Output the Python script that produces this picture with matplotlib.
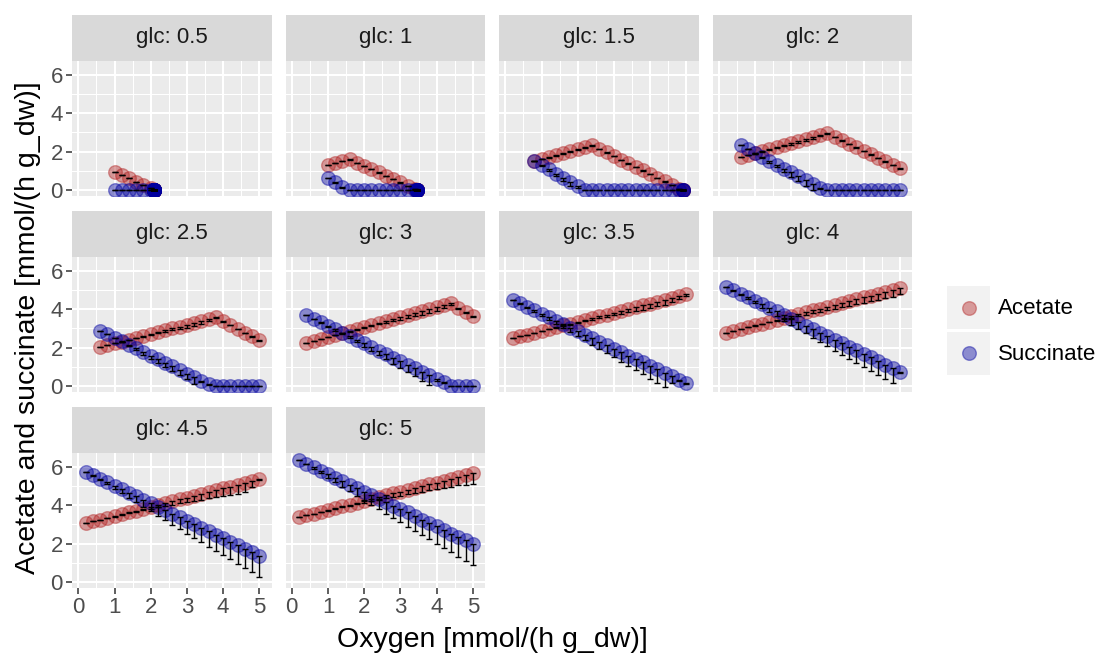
import matplotlib
matplotlib.use("Agg")
import matplotlib.pyplot as plt
from matplotlib.patches import Rectangle

plt.rcParams['font.family'] = ['Liberation Sans', 'DejaVu Sans']

# ---------------- data ----------------
glc_labels = ["glc: 0.5", "glc: 1", "glc: 1.5", "glc: 2", "glc: 2.5",
              "glc: 3", "glc: 3.5", "glc: 4", "glc: 4.5", "glc: 5"]
series_names = ["Acetate", "Succinate"]
x_ticks = [0, 1, 2, 3, 4, 5]
y_ticks = [0, 2, 4, 6]

# glc 0.5
x_g05 = [1.0, 1.2, 1.4, 1.6, 1.8, 2.0] + [2.08] * 15
ace_g05 = [0.95, 0.78, 0.61, 0.43, 0.25, 0.08] + [0.0] * 15
suc_g05 = [0.0] * 21
ace_err_g05 = [0.0] * 21
suc_err_g05 = [0.0] * 21

# glc 1
x_g1 = [1.0, 1.2, 1.4, 1.6, 1.8, 2.0, 2.2, 2.4, 2.6, 2.8, 3.0, 3.2, 3.4] + [3.47] * 8
ace_g1 = [1.30, 1.42, 1.52, 1.60, 1.43, 1.26, 1.09, 0.92, 0.75, 0.57, 0.40, 0.23, 0.06] + [0.0] * 8
suc_g1 = [0.64, 0.40, 0.17, 0.02, 0, 0, 0, 0, 0, 0, 0, 0, 0] + [0.0] * 8
ace_err_g1 = [0.0, 0.02, 0.03, 0.03, 0.02, 0.02, 0.02, 0.02, 0.02, 0.02, 0.02, 0.02, 0.02] + [0.0] * 8
suc_err_g1 = [0.0, 0.06, 0.08, 0.02, 0, 0, 0, 0, 0, 0, 0, 0, 0] + [0.0] * 8

# glc 1.5
x_g15 = [0.8, 1.0, 1.2, 1.4, 1.6, 1.8, 2.0, 2.2, 2.4, 2.6, 2.8, 3.0, 3.2, 3.4, 3.6, 3.8,
         4.0, 4.2, 4.4, 4.6, 4.8] + [4.9] * 3
ace_g15 = [1.50, 1.61, 1.71, 1.82, 1.92, 2.03, 2.14, 2.24, 2.35, 2.16, 1.97, 1.78, 1.59,
           1.40, 1.21, 1.02, 0.83, 0.64, 0.45, 0.26, 0.07] + [0.0] * 3
suc_g15 = [1.50, 1.29, 1.07, 0.86, 0.64, 0.43, 0.21, 0.0, 0, 0, 0, 0, 0, 0, 0, 0, 0, 0,
           0, 0, 0] + [0.0] * 3
ace_err_g15 = [0.0, 0.01, 0.02, 0.03, 0.04, 0.05, 0.06, 0.06, 0.05, 0.03, 0.02, 0.02, 0.02,
               0.02, 0.02, 0.02, 0.02, 0.02, 0.02, 0.02, 0.02] + [0.0] * 3
suc_err_g15 = [0.0, 0.03, 0.07, 0.11, 0.16, 0.2, 0.1, 0.02, 0, 0, 0, 0, 0, 0, 0, 0, 0, 0,
               0, 0, 0] + [0.0] * 3

# glc 2
x_g2 = [0.6, 0.8, 1.0, 1.2, 1.4, 1.6, 1.8, 2.0, 2.2, 2.4, 2.6, 2.8, 3.0, 3.2, 3.4, 3.6,
        3.8, 4.0, 4.2, 4.4, 4.6, 4.8, 5.0]
ace_g2 = [1.70, 1.81, 1.91, 2.02, 2.12, 2.23, 2.33, 2.44, 2.54, 2.65, 2.75, 2.86, 2.96,
          2.78, 2.59, 2.41, 2.23, 2.05, 1.86, 1.68, 1.50, 1.31, 1.13]
suc_g2 = [2.35, 2.15, 1.94, 1.74, 1.53, 1.33, 1.12, 0.92, 0.72, 0.51, 0.31, 0.10, 0.0,
          0, 0, 0, 0, 0, 0, 0, 0, 0, 0]
ace_err_g2 = [0.0, 0.01, 0.02, 0.03, 0.04, 0.05, 0.06, 0.07, 0.08, 0.08, 0.08, 0.05, 0.03,
              0.02, 0.02, 0.02, 0.02, 0.02, 0.02, 0.02, 0.02, 0.02, 0.02]
suc_err_g2 = [0.0, 0.02, 0.04, 0.07, 0.1, 0.14, 0.18, 0.22, 0.26, 0.3, 0.3, 0.05, 0.0,
              0, 0, 0, 0, 0, 0, 0, 0, 0, 0]

# glc 2.5
x_g25 = [0.6, 0.8, 1.0, 1.2, 1.4, 1.6, 1.8, 2.0, 2.2, 2.4, 2.6, 2.8, 3.0, 3.2, 3.4, 3.6,
         3.8, 4.0, 4.2, 4.4, 4.6, 4.8, 5.0]
ace_g25 = [2.02, 2.12, 2.22, 2.31, 2.41, 2.51, 2.61, 2.70, 2.80, 2.90, 3.00, 3.09, 3.19,
           3.29, 3.39, 3.48, 3.58, 3.38, 3.19, 2.99, 2.79, 2.60, 2.40]
suc_g25 = [2.89, 2.70, 2.52, 2.33, 2.14, 1.96, 1.77, 1.59, 1.40, 1.21, 1.03, 0.84, 0.65,
           0.47, 0.28, 0.09, 0, 0, 0, 0, 0, 0, 0]
ace_err_g25 = [0.0, 0.0, 0.0, 0.01, 0.02, 0.03, 0.04, 0.05, 0.06, 0.08, 0.1, 0.12, 0.14,
               0.15, 0.15, 0.1, 0.05, 0.03, 0.03, 0.03, 0.03, 0.03, 0.03]
suc_err_g25 = [0.0, 0.01, 0.03, 0.05, 0.07, 0.1, 0.13, 0.16, 0.19, 0.22, 0.25, 0.28, 0.31,
               0.35, 0.05, 0.02, 0, 0, 0, 0, 0, 0, 0]

# glc 3
x_g3 = [0.4, 0.6, 0.8, 1.0, 1.2, 1.4, 1.6, 1.8, 2.0, 2.2, 2.4, 2.6, 2.8, 3.0, 3.2, 3.4,
        3.6, 3.8, 4.0, 4.2, 4.4, 4.6, 4.8, 5.0]
ace_g3 = [2.23, 2.33, 2.44, 2.54, 2.65, 2.75, 2.85, 2.96, 3.06, 3.17, 3.27, 3.37, 3.48,
          3.58, 3.69, 3.79, 3.89, 4.00, 4.10, 4.21, 4.31, 4.09, 3.87, 3.65]
suc_g3 = [3.70, 3.52, 3.33, 3.15, 2.96, 2.78, 2.59, 2.41, 2.22, 2.04, 1.85, 1.67, 1.48,
          1.30, 1.11, 0.93, 0.74, 0.56, 0.37, 0.19, 0.0, 0, 0, 0]
ace_err_g3 = [0.0, 0.0, 0.0, 0.0, 0.0, 0.01, 0.02, 0.03, 0.04, 0.05, 0.06, 0.08, 0.1,
              0.12, 0.14, 0.16, 0.18, 0.2, 0.2, 0.15, 0.1, 0.05, 0.08, 0.05]
suc_err_g3 = [0.0, 0.01, 0.03, 0.05, 0.07, 0.09, 0.11, 0.14, 0.17, 0.2, 0.23, 0.27, 0.31,
              0.35, 0.39, 0.43, 0.47, 0.5, 0.1, 0.05, 0, 0, 0, 0]

# glc 3.5
x_g35 = [0.2, 0.4, 0.6, 0.8, 1.0, 1.2, 1.4, 1.6, 1.8, 2.0, 2.2, 2.4, 2.6, 2.8, 3.0, 3.2,
         3.4, 3.6, 3.8, 4.0, 4.2, 4.4, 4.6, 4.8, 5.0]
ace_g35 = [2.49, 2.59, 2.68, 2.78, 2.87, 2.97, 3.06, 3.16, 3.25, 3.35, 3.44, 3.54, 3.63,
           3.73, 3.83, 3.92, 4.02, 4.11, 4.21, 4.30, 4.40, 4.49, 4.59, 4.68, 4.78]
suc_g35 = [4.49, 4.31, 4.13, 3.95, 3.77, 3.58, 3.40, 3.22, 3.04, 2.86, 2.68, 2.50, 2.32,
           2.13, 1.95, 1.77, 1.59, 1.41, 1.23, 1.05, 0.87, 0.68, 0.50, 0.32, 0.14]
ace_err_g35 = [0.0, 0.0, 0.0, 0.0, 0.01, 0.02, 0.03, 0.04, 0.05, 0.06, 0.07, 0.08, 0.1,
               0.12, 0.14, 0.16, 0.18, 0.2, 0.22, 0.24, 0.25, 0.26, 0.2, 0.12, 0.08]
suc_err_g35 = [0.0, 0.02, 0.05, 0.08, 0.11, 0.14, 0.17, 0.2, 0.23, 0.27, 0.3, 0.34, 0.38,
               0.42, 0.46, 0.5, 0.54, 0.58, 0.62, 0.66, 0.7, 0.72, 0.35, 0.05, 0.02]

# glc 4
x_g4 = [0.2, 0.4, 0.6, 0.8, 1.0, 1.2, 1.4, 1.6, 1.8, 2.0, 2.2, 2.4, 2.6, 2.8, 3.0, 3.2,
        3.4, 3.6, 3.8, 4.0, 4.2, 4.4, 4.6, 4.8, 5.0]
ace_g4 = [2.78, 2.88, 2.97, 3.07, 3.17, 3.26, 3.36, 3.46, 3.55, 3.65, 3.75, 3.84, 3.94,
          4.04, 4.13, 4.23, 4.33, 4.42, 4.52, 4.62, 4.71, 4.81, 4.91, 5.00, 5.10]
suc_g4 = [5.18, 5.00, 4.81, 4.63, 4.44, 4.26, 4.07, 3.89, 3.70, 3.52, 3.33, 3.15, 2.97,
          2.78, 2.60, 2.41, 2.23, 2.04, 1.86, 1.67, 1.49, 1.30, 1.12, 0.93, 0.75]
ace_err_g4 = [0.0, 0.0, 0.0, 0.01, 0.02, 0.03, 0.04, 0.05, 0.06, 0.08, 0.1, 0.12, 0.14,
              0.16, 0.18, 0.2, 0.22, 0.24, 0.26, 0.28, 0.3, 0.32, 0.33, 0.34, 0.3]
suc_err_g4 = [0.0, 0.02, 0.05, 0.09, 0.13, 0.17, 0.21, 0.25, 0.29, 0.33, 0.37, 0.41, 0.45,
              0.49, 0.53, 0.57, 0.61, 0.64, 0.67, 0.7, 0.72, 0.74, 0.76, 0.77, 0.05]

# glc 4.5
x_g45 = [0.2, 0.4, 0.6, 0.8, 1.0, 1.2, 1.4, 1.6, 1.8, 2.0, 2.2, 2.4, 2.6, 2.8, 3.0, 3.2,
         3.4, 3.6, 3.8, 4.0, 4.2, 4.4, 4.6, 4.8, 5.0]
ace_g45 = [3.06, 3.16, 3.25, 3.35, 3.44, 3.54, 3.63, 3.73, 3.83, 3.92, 4.02, 4.11, 4.21,
           4.31, 4.40, 4.50, 4.59, 4.69, 4.78, 4.88, 4.98, 5.07, 5.17, 5.26, 5.36]
suc_g45 = [5.76, 5.58, 5.39, 5.21, 5.03, 4.84, 4.66, 4.48, 4.29, 4.11, 3.93, 3.74, 3.56,
           3.38, 3.19, 3.01, 2.83, 2.64, 2.46, 2.28, 2.09, 1.91, 1.73, 1.54, 1.36]
ace_err_g45 = [0.0, 0.0, 0.01, 0.02, 0.03, 0.04, 0.05, 0.07, 0.09, 0.11, 0.13, 0.15, 0.18,
               0.2, 0.23, 0.26, 0.29, 0.32, 0.35, 0.38, 0.42, 0.46, 0.5, 0.3, 0.05]
suc_err_g45 = [0.0, 0.03, 0.07, 0.12, 0.17, 0.22, 0.27, 0.32, 0.37, 0.42, 0.47, 0.52, 0.57,
               0.62, 0.67, 0.71, 0.75, 0.79, 0.83, 0.87, 0.91, 0.95, 0.99, 1.03, 1.08]

# glc 5
x_g5 = [0.2, 0.4, 0.6, 0.8, 1.0, 1.2, 1.4, 1.6, 1.8, 2.0, 2.2, 2.4, 2.6, 2.8, 3.0, 3.2,
        3.4, 3.6, 3.8, 4.0, 4.2, 4.4, 4.6, 4.8, 5.0]
ace_g5 = [3.37, 3.47, 3.56, 3.66, 3.75, 3.85, 3.94, 4.04, 4.14, 4.23, 4.33, 4.42, 4.52,
          4.62, 4.71, 4.81, 4.90, 5.00, 5.10, 5.19, 5.29, 5.38, 5.48, 5.58, 5.67]
suc_g5 = [6.36, 6.18, 5.99, 5.81, 5.63, 5.45, 5.27, 5.08, 4.90, 4.72, 4.54, 4.35, 4.17,
          3.99, 3.81, 3.63, 3.44, 3.26, 3.08, 2.90, 2.71, 2.53, 2.35, 2.17, 1.98]
ace_err_g5 = [0.0, 0.0, 0.01, 0.02, 0.03, 0.04, 0.05, 0.06, 0.08, 0.1, 0.12, 0.14, 0.16,
              0.18, 0.2, 0.22, 0.25, 0.28, 0.3, 0.33, 0.36, 0.4, 0.44, 0.5, 0.56]
suc_err_g5 = [0.0, 0.03, 0.08, 0.13, 0.19, 0.24, 0.29, 0.34, 0.4, 0.45, 0.5, 0.55, 0.6,
              0.65, 0.7, 0.74, 0.78, 0.82, 0.86, 0.9, 0.94, 0.98, 1.02, 1.06, 1.1]

panels = [
    (x_g05, ace_g05, suc_g05, ace_err_g05, suc_err_g05),
    (x_g1, ace_g1, suc_g1, ace_err_g1, suc_err_g1),
    (x_g15, ace_g15, suc_g15, ace_err_g15, suc_err_g15),
    (x_g2, ace_g2, suc_g2, ace_err_g2, suc_err_g2),
    (x_g25, ace_g25, suc_g25, ace_err_g25, suc_err_g25),
    (x_g3, ace_g3, suc_g3, ace_err_g3, suc_err_g3),
    (x_g35, ace_g35, suc_g35, ace_err_g35, suc_err_g35),
    (x_g4, ace_g4, suc_g4, ace_err_g4, suc_err_g4),
    (x_g45, ace_g45, suc_g45, ace_err_g45, suc_err_g45),
    (x_g5, ace_g5, suc_g5, ace_err_g5, suc_err_g5),
]

# ---------------- style ----------------
W, H = 1100, 657
ACE = (178/255, 34/255, 34/255)
SUC = (0/255, 0/255, 160/255)
ALPHA = 0.42
PANEL_BG = "#EBEBEB"
STRIP_BG = "#D9D9D9"
SMALL = 16
TITLE = 20.5

fig = plt.figure(figsize=(W / 100, H / 100), dpi=100)
fig.patch.set_facecolor("white")


def rect(l, t, w, h):
    return [l / W, 1 - (t + h) / H, w / W, h / H]


col_left = [72.3, 285.8, 499.3, 712.8]
row_top = [61, 257, 453]
pw, ph = 199.5, 135
strip_h = 46

for i, (xs, ace, suc, ace_e, suc_e) in enumerate(panels):
    r, c = divmod(i, 4)
    l, t = col_left[c], row_top[r]
    ax = fig.add_axes(rect(l, t, pw, ph))
    ax.set_facecolor(PANEL_BG)
    ax.set_xlim(-0.166, 5.345)
    ax.set_ylim(-0.313, 6.73)
    ax.set_xticks(x_ticks)
    ax.set_xticks([0.5, 1.5, 2.5, 3.5, 4.5], minor=True)
    ax.set_yticks(y_ticks)
    ax.set_yticks([1, 3, 5], minor=True)
    ax.grid(which="major", color="white", linewidth=1.5)
    ax.grid(which="minor", color="white", linewidth=0.75)
    ax.set_axisbelow(True)
    for s in ax.spines.values():
        s.set_visible(False)
    ax.tick_params(which="minor", length=0)
    ax.tick_params(which="major", length=4.3, width=1.1, color="#333333",
                   labelcolor="#4D4D4D", labelsize=SMALL, pad=2.5)
    if c != 0:
        ax.tick_params(axis="y", which="major", length=0, labelleft=False)
    if r != 2:
        ax.tick_params(axis="x", which="major", length=0, labelbottom=False)

    for ys, col in ((ace, ACE), (suc, SUC)):
        ax.plot(xs, ys, linestyle="none", marker="o", markersize=9.8,
                markerfacecolor=(*col, ALPHA), markeredgecolor=(*col, ALPHA),
                markeredgewidth=1.0, zorder=3)
    for ys, es in ((ace, ace_e), (suc, suc_e)):
        ax.errorbar(xs, ys, yerr=[es, [0.0] * len(es)], fmt="none", ecolor="black",
                    elinewidth=1.0, capsize=2.0, capthick=1.0, zorder=4)

    sax = fig.add_axes(rect(l, t - strip_h, pw, strip_h))
    sax.set_facecolor(STRIP_BG)
    sax.set_xticks([])
    sax.set_yticks([])
    for s in sax.spines.values():
        s.set_visible(False)
    sax.text(0.5, 0.5, glc_labels[i], ha="center", va="center", fontsize=SMALL,
             color="#1A1A1A", transform=sax.transAxes)

# axis titles
fig.text(492 / W, 1 - 640 / H, "Oxygen [mmol/(h g_dw)]", ha="center", va="center",
         fontsize=TITLE, color="black")
fig.text(28 / W, 1 - 328 / H, "Acetate and succinate [mmol/(h g_dw)]", ha="center",
         va="center", rotation=90, fontsize=TITLE, color="black")

# legend
lax = fig.add_axes([0, 0, 1, 1], facecolor="none")
lax.set_xlim(0, W)
lax.set_ylim(H, 0)
lax.axis("off")
key_tops = [286, 331.5]
for name, col, kt in zip(series_names, (ACE, SUC), key_tops):
    lax.add_patch(Rectangle((947, kt), 43, 43, facecolor="#F2F2F2", edgecolor="none"))
    lax.plot([968.5], [kt + 21.5], linestyle="none", marker="o", markersize=9.8,
             markerfacecolor=(*col, ALPHA), markeredgecolor=(*col, ALPHA),
             markeredgewidth=1.0)
    lax.text(998, kt + 22.5, name, ha="left", va="center", fontsize=SMALL, color="black")

fig.savefig("out.png", dpi=100)
